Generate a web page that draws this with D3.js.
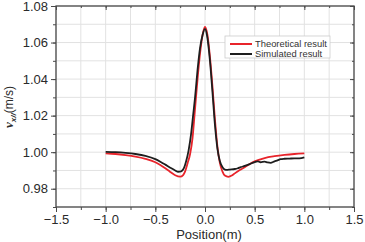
<!DOCTYPE html>
<html><head><meta charset="utf-8">
<script src="https://cdn.jsdelivr.net/npm/d3@7"></script>
<style>body{margin:0;background:#fff}svg{display:block}text{font-family:"Liberation Sans",Arial,sans-serif}</style>
</head><body><svg id="c" width="365" height="242"></svg>
<script>
const theoX = [-1.00,-0.90,-0.80,-0.70,-0.60,-0.50,-0.45,-0.40,-0.35,-0.30,-0.25,-0.22,-0.20,-0.175,-0.15,-0.125,-0.10,-0.075,-0.05,-0.025,0.00,0.025,0.05,0.075,0.10,0.125,0.15,0.175,0.20,0.235,0.27,0.30,0.35,0.40,0.45,0.50,0.60,0.70,0.80,0.90,1.00];
const theoY = [0.9994,0.9990,0.9984,0.9976,0.9964,0.9945,0.9930,0.9912,0.9892,0.9874,0.9866,0.9875,0.9895,0.9940,0.9990,1.0080,1.0240,1.0400,1.0540,1.0640,1.0685,1.0640,1.0520,1.0360,1.0180,1.0030,0.9940,0.9895,0.9872,0.9865,0.9872,0.9884,0.9902,0.9918,0.9935,0.9950,0.9968,0.9978,0.9985,0.9990,0.9993];
const simX = [-1.00,-0.90,-0.80,-0.70,-0.60,-0.50,-0.45,-0.40,-0.35,-0.30,-0.27,-0.24,-0.21,-0.19,-0.165,-0.14,-0.12,-0.10,-0.075,-0.05,-0.025,0.00,0.02,0.05,0.075,0.10,0.125,0.15,0.18,0.20,0.22,0.25,0.30,0.33,0.36,0.40,0.45,0.50,0.53,0.56,0.60,0.63,0.66,0.70,0.73,0.76,0.80,0.85,0.90,0.95,1.00];
const simY = [1.0002,1.0000,0.9996,0.9990,0.9980,0.9962,0.9948,0.9932,0.9915,0.9900,0.9893,0.9895,0.9915,0.9950,1.0010,1.0100,1.0200,1.0300,1.0450,1.0570,1.0640,1.0675,1.0640,1.0500,1.0330,1.0150,1.0020,0.9950,0.9915,0.9905,0.9903,0.9905,0.9908,0.9912,0.9918,0.9925,0.9935,0.9946,0.9950,0.9945,0.9948,0.9944,0.9942,0.9950,0.9955,0.9962,0.9964,0.9965,0.9966,0.9966,0.9972];
const xTicks = [-1.5,-1.0,-0.5,0.0,0.5,1.0,1.5];
const yTicks = [0.98,1.00,1.02,1.04,1.06,1.08];
const seriesNames = ["Theoretical result","Simulated result"];
const seriesColors = ["#e8242b","#1e1e1e"];

const svg = d3.select("#c");
const L=56, R=354, T=6, B=207;
const x = d3.scaleLinear().domain([-1.5,1.5]).range([L,R]);
const y = d3.scaleLinear().domain([0.97,1.08]).range([B,T]);

// grid
const xMinor = d3.range(-1.5,1.5001,0.25);
const yMinor = d3.range(0.97,1.0801,0.01);
const g = svg.append("g");
g.selectAll(".gx").data(xMinor).join("line").attr("x1",d=>x(d)).attr("x2",d=>x(d)).attr("y1",T).attr("y2",B).attr("stroke","#e2e2e2").attr("stroke-width",1);
g.selectAll(".gy").data(yMinor).join("line").attr("y1",d=>y(d)).attr("y2",d=>y(d)).attr("x1",L).attr("x2",R).attr("stroke","#e2e2e2").attr("stroke-width",1);

// axes
const axCol = "#4a4a4a";
function styleAx(sel){sel.select(".domain").remove();sel.selectAll("line").attr("stroke",axCol);sel.selectAll("text").attr("fill","#2a2a2a").attr("font-size","13px");}
svg.append("g").attr("transform",`translate(0,${B})`).call(d3.axisBottom(x).tickValues(xTicks).tickFormat(d3.format(".1f")).tickSize(5).tickPadding(3)).call(styleAx);
svg.append("g").attr("transform",`translate(0,${B})`).call(d3.axisBottom(x).tickValues(xMinor).tickFormat("").tickSize(3)).call(styleAx);
svg.append("g").attr("transform",`translate(${L},0)`).call(d3.axisLeft(y).tickValues(yTicks).tickFormat(d3.format(".2f")).tickSize(5).tickPadding(3)).call(styleAx);
svg.append("g").attr("transform",`translate(${L},0)`).call(d3.axisLeft(y).tickValues(yMinor).tickFormat("").tickSize(3)).call(styleAx);
svg.append("g").attr("transform",`translate(0,${T})`).call(d3.axisBottom(x).tickValues(xTicks).tickFormat("").tickSize(4)).call(styleAx);
svg.append("g").attr("transform",`translate(0,${T})`).call(d3.axisBottom(x).tickValues(xMinor).tickFormat("").tickSize(2)).call(styleAx);
svg.append("g").attr("transform",`translate(${R},0)`).call(d3.axisLeft(y).tickValues(yTicks).tickFormat("").tickSize(4)).call(styleAx);
svg.append("g").attr("transform",`translate(${R},0)`).call(d3.axisLeft(y).tickValues(yMinor).tickFormat("").tickSize(2)).call(styleAx);
svg.append("rect").attr("x",L).attr("y",T).attr("width",R-L).attr("height",B-T).attr("fill","none").attr("stroke",axCol).attr("stroke-width",1.3);

// lines
const line = d3.line().x(d=>x(d[0])).y(d=>y(d[1])).curve(d3.curveMonotoneX);
const data = [d3.zip(theoX,theoY), d3.zip(simX,simY)];
data.forEach((d,i)=>svg.append("path").datum(d).attr("d",line).attr("fill","none").attr("stroke",seriesColors[i]).attr("stroke-width",1.8).attr("stroke-linejoin","round"));

// legend
const lg = svg.append("g");
lg.append("rect").attr("x",225).attr("y",36).attr("width",105).attr("height",22).attr("fill","#fff").attr("stroke","#ccc").attr("stroke-width",0.8);
seriesNames.forEach((n,i)=>{
  const yy = 44 + i*10;
  lg.append("line").attr("x1",230).attr("x2",252).attr("y1",yy).attr("y2",yy).attr("stroke",seriesColors[i]).attr("stroke-width",2);
  lg.append("text").attr("x",255).attr("y",yy+3).attr("font-size","9.4px").attr("fill","#333").text(n);
});

// titles
svg.append("text").attr("x",209).attr("y",239).attr("text-anchor","middle").attr("font-size","13px").attr("fill","#2a2a2a").text("Position(m)");
const yl = svg.append("text").attr("transform","translate(13,107) rotate(-90)").attr("text-anchor","middle").attr("font-size","12px").attr("fill","#2a2a2a");
yl.append("tspan").attr("font-weight","bold").attr("font-style","italic").attr("font-family","'Liberation Serif',serif").attr("font-size","13px").text("v");
yl.append("tspan").attr("dy",3).attr("font-size","8px").attr("font-weight","bold").attr("font-style","italic").text("x//");
yl.append("tspan").attr("dy",-3).text("(m/s)");
</script></body></html>
